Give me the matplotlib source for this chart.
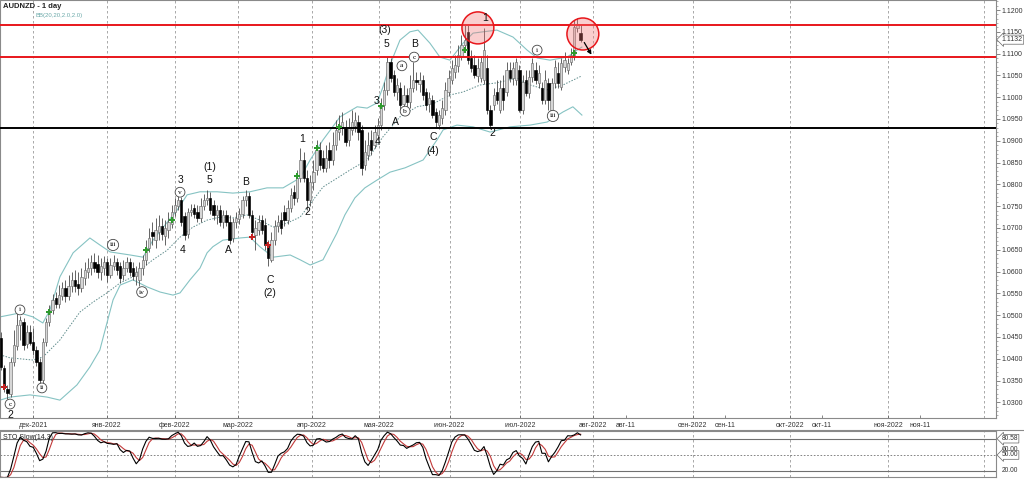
import matplotlib
matplotlib.use('Agg')
import matplotlib.pyplot as plt
from matplotlib.patches import Ellipse
import numpy as np
import pandas as pd

plt.rcParams['font.family'] = ['Liberation Sans', 'DejaVu Sans']

# ---------------- data (AUDNZD daily) ----------------
opens = [1.0448, 1.0379, 1.0330, 1.0319, 1.0392, 1.0430, 1.0478, 1.0484, 1.0434, 1.0461,
         1.0438, 1.0420, 1.0392, 1.0351, 1.0438, 1.0484, 1.0512, 1.0540, 1.0526, 1.0544,
         1.0563, 1.0544, 1.0567, 1.0581, 1.0572, 1.0563, 1.0586, 1.0599, 1.0609, 1.0622,
         1.0618, 1.0599, 1.0609, 1.0622, 1.0593, 1.0613, 1.0622, 1.0613, 1.0593, 1.0609,
         1.0622, 1.0609, 1.0590, 1.0581, 1.0609, 1.0627, 1.0654, 1.0690, 1.0672, 1.0690,
         1.0704, 1.0681, 1.0695, 1.0709, 1.0736, 1.0750, 1.0764, 1.0727, 1.0686, 1.0736,
         1.0746, 1.0736, 1.0723, 1.0750, 1.0764, 1.0769, 1.0753, 1.0730, 1.0741, 1.0713,
         1.0730, 1.0713, 1.0677, 1.0713, 1.0720, 1.0732, 1.0764, 1.0773, 1.0730, 1.0684,
         1.0695, 1.0718, 1.0707, 1.0661, 1.0627, 1.0672, 1.0704, 1.0718, 1.0736, 1.0718,
         1.0746, 1.0782, 1.0769, 1.0815, 1.0856, 1.0815, 1.0764, 1.0805, 1.0833, 1.0879,
         1.0861, 1.0838, 1.0879, 1.0856, 1.0890, 1.0920, 1.0929, 1.0929, 1.0902, 1.0925,
         1.0934, 1.0943, 1.0925, 1.0844, 1.0867, 1.0902, 1.0890, 1.0913, 1.0936, 1.0982,
         1.1017, 1.1081, 1.1051, 1.1012, 1.1021, 1.0984, 1.1005, 1.0989, 1.1021, 1.1039,
         1.1030, 1.1039, 1.1012, 1.0984, 1.0994, 1.0966, 1.0936, 1.0952, 1.0971, 1.1012,
         1.1039, 1.1058, 1.1072, 1.1095, 1.1120, 1.1150, 1.1090, 1.1074, 1.1049, 1.1044,
         1.1039, 1.1067, 1.0971, 1.0982, 1.1012, 1.0971, 1.1021, 1.1012, 1.1062, 1.1044,
         1.1039, 1.1062, 1.0971, 1.1039, 1.1010, 1.1046, 1.1062, 1.1033, 1.1021, 1.0994,
         1.1033, 1.0971, 1.1033, 1.1056, 1.1023, 1.1069, 1.1062, 1.1081, 1.1092, 1.1159,
         1.1147]
highs = [1.0461, 1.0386, 1.0340, 1.0402, 1.0466, 1.0512, 1.0498, 1.0494, 1.0478, 1.0478,
         1.0471, 1.0430, 1.0402, 1.0448, 1.0494, 1.0524, 1.0549, 1.0553, 1.0570, 1.0576,
         1.0581, 1.0593, 1.0599, 1.0604, 1.0599, 1.0609, 1.0622, 1.0631, 1.0638, 1.0642,
         1.0638, 1.0631, 1.0635, 1.0631, 1.0631, 1.0638, 1.0631, 1.0622, 1.0627, 1.0633,
         1.0631, 1.0622, 1.0613, 1.0622, 1.0638, 1.0672, 1.0700, 1.0713, 1.0723, 1.0730,
         1.0723, 1.0718, 1.0736, 1.0753, 1.0769, 1.0773, 1.0771, 1.0736, 1.0746, 1.0755,
         1.0755, 1.0753, 1.0769, 1.0778, 1.0787, 1.0782, 1.0764, 1.0753, 1.0753, 1.0741,
         1.0741, 1.0730, 1.0723, 1.0736, 1.0746, 1.0773, 1.0787, 1.0782, 1.0741, 1.0718,
         1.0730, 1.0730, 1.0723, 1.0672, 1.0690, 1.0718, 1.0730, 1.0736, 1.0753, 1.0764,
         1.0792, 1.0799, 1.0833, 1.0884, 1.0874, 1.0833, 1.0822, 1.0856, 1.0902, 1.0897,
         1.0879, 1.0890, 1.0897, 1.0920, 1.0948, 1.0959, 1.0966, 1.0948, 1.0952, 1.0971,
         1.0966, 1.0959, 1.0936, 1.0902, 1.0920, 1.0925, 1.0936, 1.0952, 1.0998, 1.1035,
         1.1092, 1.1090, 1.1062, 1.1044, 1.1035, 1.1028, 1.1021, 1.1051, 1.1081, 1.1058,
         1.1058, 1.1051, 1.1021, 1.1012, 1.1005, 1.0975, 1.0971, 1.0994, 1.1035, 1.1062,
         1.1085, 1.1097, 1.1120, 1.1143, 1.1166, 1.1166, 1.1108, 1.1097, 1.1090, 1.1095,
         1.1159, 1.1097, 1.0982, 1.1021, 1.1039, 1.1039, 1.1051, 1.1081, 1.1081, 1.1081,
         1.1090, 1.1074, 1.1051, 1.1062, 1.1062, 1.1090, 1.1081, 1.1074, 1.1035, 1.1062,
         1.1044, 1.1044, 1.1085, 1.1081, 1.1090, 1.1104, 1.1090, 1.1113, 1.1177, 1.1182,
         1.1166]
lows = [1.0374, 1.0323, 1.0307, 1.0312, 1.0383, 1.0420, 1.0443, 1.0420, 1.0425, 1.0432,
        1.0409, 1.0383, 1.0342, 1.0344, 1.0430, 1.0475, 1.0503, 1.0517, 1.0517, 1.0535,
        1.0530, 1.0535, 1.0553, 1.0553, 1.0547, 1.0553, 1.0570, 1.0586, 1.0593, 1.0599,
        1.0586, 1.0581, 1.0593, 1.0576, 1.0586, 1.0604, 1.0593, 1.0574, 1.0581, 1.0599,
        1.0590, 1.0581, 1.0570, 1.0567, 1.0593, 1.0615, 1.0644, 1.0661, 1.0654, 1.0672,
        1.0672, 1.0661, 1.0677, 1.0700, 1.0727, 1.0741, 1.0704, 1.0672, 1.0677, 1.0727,
        1.0723, 1.0713, 1.0713, 1.0741, 1.0753, 1.0732, 1.0718, 1.0709, 1.0704, 1.0700,
        1.0704, 1.0663, 1.0667, 1.0700, 1.0709, 1.0723, 1.0750, 1.0723, 1.0677, 1.0649,
        1.0684, 1.0686, 1.0649, 1.0613, 1.0622, 1.0661, 1.0690, 1.0686, 1.0704, 1.0709,
        1.0736, 1.0753, 1.0759, 1.0805, 1.0805, 1.0741, 1.0750, 1.0787, 1.0822, 1.0833,
        1.0828, 1.0828, 1.0838, 1.0844, 1.0879, 1.0902, 1.0913, 1.0888, 1.0888, 1.0913,
        1.0920, 1.0902, 1.0822, 1.0833, 1.0856, 1.0867, 1.0884, 1.0902, 1.0925, 1.0971,
        1.1005, 1.1035, 1.1003, 1.0994, 1.0971, 1.0975, 1.0971, 1.0975, 1.1012, 1.1017,
        1.1012, 1.0994, 1.0971, 1.0966, 1.0952, 1.0929, 1.0927, 1.0939, 1.0959, 1.1003,
        1.1030, 1.1044, 1.1058, 1.1085, 1.1104, 1.1076, 1.1058, 1.1044, 1.1035, 1.1035,
        1.1030, 1.0961, 1.0929, 1.0971, 1.0984, 1.0964, 1.0971, 1.1003, 1.1035, 1.1028,
        1.1028, 1.0966, 1.0961, 1.1003, 1.0998, 1.1035, 1.1030, 1.1021, 1.0984, 1.0984,
        1.0971, 1.0966, 1.1021, 1.1021, 1.1017, 1.1058, 1.1053, 1.1074, 1.1085, 1.1150,
        1.1127]
closes = [1.0381, 1.0333, 1.0321, 1.0392, 1.0432, 1.0478, 1.0489, 1.0432, 1.0461, 1.0436,
          1.0420, 1.0392, 1.0351, 1.0438, 1.0484, 1.0512, 1.0535, 1.0526, 1.0547, 1.0563,
          1.0544, 1.0567, 1.0581, 1.0567, 1.0563, 1.0588, 1.0604, 1.0609, 1.0622, 1.0609,
          1.0599, 1.0613, 1.0622, 1.0593, 1.0615, 1.0622, 1.0604, 1.0586, 1.0609, 1.0622,
          1.0599, 1.0590, 1.0599, 1.0609, 1.0627, 1.0654, 1.0677, 1.0681, 1.0695, 1.0704,
          1.0686, 1.0700, 1.0713, 1.0736, 1.0753, 1.0764, 1.0713, 1.0684, 1.0736, 1.0741,
          1.0732, 1.0723, 1.0750, 1.0764, 1.0769, 1.0741, 1.0730, 1.0741, 1.0713, 1.0730,
          1.0713, 1.0672, 1.0713, 1.0723, 1.0732, 1.0764, 1.0773, 1.0730, 1.0690, 1.0700,
          1.0713, 1.0695, 1.0661, 1.0631, 1.0672, 1.0704, 1.0713, 1.0700, 1.0718, 1.0746,
          1.0776, 1.0769, 1.0815, 1.0856, 1.0815, 1.0764, 1.0805, 1.0828, 1.0879, 1.0844,
          1.0838, 1.0861, 1.0856, 1.0890, 1.0925, 1.0936, 1.0943, 1.0897, 1.0929, 1.0943,
          1.0948, 1.0920, 1.0838, 1.0874, 1.0890, 1.0879, 1.0920, 1.0936, 1.0982, 1.1017,
          1.1081, 1.1044, 1.1012, 1.1028, 1.0982, 1.1005, 1.0989, 1.1021, 1.1039, 1.1035,
          1.1039, 1.1005, 1.0982, 1.0998, 1.0959, 1.0943, 1.0959, 1.0975, 1.1017, 1.1044,
          1.1067, 1.1074, 1.1097, 1.1120, 1.1131, 1.1085, 1.1067, 1.1051, 1.1067, 1.1081,
          1.1108, 1.0971, 1.0936, 1.1005, 1.0994, 1.1021, 1.0994, 1.1062, 1.1044, 1.1067,
          1.1081, 1.0971, 1.1035, 1.1010, 1.1046, 1.1078, 1.1039, 1.1056, 1.0994, 1.1039,
          1.0994, 1.1033, 1.1069, 1.1033, 1.1078, 1.1085, 1.1078, 1.1097, 1.1161, 1.1168,
          1.1132]

# Bollinger band (20, 2.0) traced: bar position, price
bb_upper_x = [-0.3, 5.9, 9.9, 13.0, 15.2, 18.3, 22.4, 27.6, 30.7, 33.9, 40.1, 44.1, 47.2, 51.6,
              54.7, 57.8, 61.8, 67.1, 72.0, 77.3, 82.6, 87.6, 92.9, 96.0, 100.0, 105.3, 110.6,
              113.7, 116.8, 118.6, 120.8, 123.9, 127.0, 129.5, 133.2, 136.3, 139.4, 143.5, 146.6,
              149.7, 154.0, 159.0, 163.4, 166.5, 170.5, 175.8, 178.9, 180.4]
bb_upper_y = [1.0496, 1.0505, 1.0496, 1.0482, 1.0512, 1.0588, 1.0643, 1.0677, 1.0661, 1.0645,
              1.0638, 1.0633, 1.0672, 1.0713, 1.0741, 1.0776, 1.0783, 1.0783, 1.0780, 1.0783,
              1.0792, 1.0792, 1.0815, 1.0856, 1.0902, 1.0955, 1.0978, 1.0975, 1.0987, 1.1023,
              1.1074, 1.1131, 1.1150, 1.1154, 1.1124, 1.1092, 1.1085, 1.1124, 1.1147, 1.1150,
              1.1154, 1.1138, 1.1108, 1.1090, 1.1085, 1.1092, 1.1108, 1.1115]
bb_mid_x = [-0.3, 2.8, 9.9, 13.0, 15.2, 18.3, 20.5, 24.5, 28.6, 32.9, 37.0, 41.0, 43.2, 47.2,
            51.6, 55.6, 59.6, 64.0, 68.0, 72.0, 76.4, 80.4, 84.5, 88.8, 92.9, 100.0, 108.4,
            113.7, 118.6, 123.9, 129.2, 134.2, 139.4, 143.5, 148.8, 154.0, 160.2, 164.3, 169.6,
            174.5, 180.4]
bb_mid_y = [1.0409, 1.0402, 1.0397, 1.0404, 1.0420, 1.0443, 1.0466, 1.0507, 1.0530, 1.0551,
            1.0574, 1.0588, 1.0604, 1.0627, 1.0649, 1.0679, 1.0702, 1.0718, 1.0725, 1.0723,
            1.0730, 1.0718, 1.0702, 1.0711, 1.0725, 1.0794, 1.0833, 1.0856, 1.0909, 1.0955,
            1.0978, 1.0985, 1.1005, 1.1012, 1.1028, 1.1033, 1.1044, 1.1028, 1.1017, 1.1028,
            1.1049]
bb_lower_x = [-0.3, 2.8, 9.0, 14.3, 18.3, 23.6, 27.6, 30.7, 32.9, 34.8, 37.0, 41.0, 45.3, 49.4,
              53.4, 55.6, 58.7, 61.8, 64.0, 65.8, 68.9, 74.2, 77.3, 80.4, 84.5, 89.8, 92.9, 96.0,
              100.0, 104.3, 106.8, 109.9, 113.0, 116.8, 120.8, 125.5, 131.1, 135.4, 137.3, 141.6,
              146.6, 151.9, 158.1, 164.3, 169.6, 174.5, 177.6, 180.4]
bb_lower_y = [1.0305, 1.0312, 1.0317, 1.0312, 1.0305, 1.0340, 1.0381, 1.0420, 1.0482, 1.0535,
              1.0569, 1.0581, 1.0565, 1.0553, 1.0546, 1.0551, 1.0581, 1.0608, 1.0643, 1.0657,
              1.0672, 1.0677, 1.0679, 1.0657, 1.0633, 1.0638, 1.0627, 1.0615, 1.0627, 1.0688,
              1.0730, 1.0769, 1.0792, 1.0810, 1.0828, 1.0838, 1.0856, 1.0902, 1.0925, 1.0936,
              1.0932, 1.0920, 1.0932, 1.0936, 1.0943, 1.0966, 1.0978, 1.0959]

# signal markers
green_idx = [15, 45, 53, 92, 98, 105, 118, 144, 178]
green_px = [1.0507, 1.0649, 1.0718, 1.0819, 1.0884, 1.0932, 1.0980, 1.1108, 1.1101]
red_idx = [1, 78, 83]
red_px = [1.0335, 1.0679, 1.0661]

# horizontal levels
resistance_levels = [1.1166, 1.1092]
support_level = 1.0929
last_price = 1.1132

# wave labels: (text, bar position, price, circled)
wave_labels = [
    ("2", 2.8, 1.0271, False), ("c", 2.8, 1.0296, True), ("i", 5.9, 1.0512, True),
    ("ii", 12.7, 1.0333, True), ("iii", 34.8, 1.0661, True), ("iv", 43.8, 1.0553, True),
    ("v", 55.6, 1.0782, True), ("3", 55.6, 1.0810, False), ("4", 56.5, 1.0649, False),
    ("(1)", 64.9, 1.0840, False), ("5", 64.6, 1.0810, False), ("A", 70.5, 1.0649, False),
    ("B", 75.8, 1.0805, False), ("C", 83.5, 1.0581, False), ("(2)", 83.5, 1.0551, False),
    ("1", 93.5, 1.0904, False), ("2", 95.3, 1.0737, False), ("(3)", 119.3, 1.1154, False),
    ("5", 119.6, 1.1122, False), ("3", 116.5, 1.0991, False), ("4", 117.1, 1.0897, False),
    ("A", 122.4, 1.0943, False), ("a", 124.5, 1.1072, True), ("b", 125.5, 1.0968, True),
    ("B", 128.3, 1.1122, False), ("c", 128.3, 1.1092, True), ("C", 134.2, 1.0909, False),
    ("(4)", 134.2, 1.0877, False), ("1", 150.3, 1.1182, False), ("2", 152.5, 1.0918, False),
    ("i", 166.5, 1.1108, True), ("iii", 171.4, 1.0957, True),
]

# highlight circles (bar position, price)
circle_x = [148.1, 180.7]
circle_y = [1.1159, 1.1145]

# x axis month labels (bar positions)
month_pos = [9.94, 32.9, 53.9, 73.6, 96.6, 117.5, 139.3, 161.2, 183.9, 194.1, 214.9, 224.8,
             245.0, 255.0, 275.6, 285.4]
month_labels = ["дек-2021", "янв-2022", "фев-2022", "мар-2022", "апр-2022", "мая-2022",
                "июн-2022", "июл-2022", "авг-2022", "авг-11", "сен-2022", "сен-11",
                "окт-2022", "окт-11", "ноя-2022", "ноя-11"]
grid_pos = [9.94, 32.9, 53.9, 73.6, 96.6, 117.5, 139.3, 161.2, 183.9, 214.9, 245.0, 275.6, 305.3]

# ---------------- figure ----------------
fig = plt.figure(figsize=(10.24, 4.79), dpi=100)
W, H = 1024.0, 479.0
ax = fig.add_axes([0, (H - 418) / H, 996 / W, 418 / H])
axs = fig.add_axes([0, (H - 477) / H, 996 / W, 46 / H], sharex=ax)

o = np.array(opens); h = np.array(highs); l = np.array(lows); c = np.array(closes)
idx = np.arange(len(c))
up = c >= o

ax.set_xlim(-0.31, 309.0)
ax.set_ylim(1.0264, 1.1223)

for gx in grid_pos:
    ax.axvline(gx, color='#9a9a9a', lw=0.6, ls=(0, (3, 3)), zorder=1)
    axs.axvline(gx, color='#9a9a9a', lw=0.6, ls=(0, (3, 3)), zorder=1)

# bands
bb_col = '#86c3c3'
ax.plot(bb_upper_x, bb_upper_y, color=bb_col, lw=0.8, zorder=2)
ax.plot(bb_lower_x, bb_lower_y, color=bb_col, lw=0.8, zorder=2)
ax.plot(bb_mid_x, bb_mid_y, color='#5f8c8c', lw=0.7, ls=(0, (1.5, 1.5)), zorder=2)

# candles
ax.vlines(idx, l, h, color='#4a4a4a', lw=0.6, zorder=3)
ax.bar(idx[up], np.maximum((c - o)[up], 0.00008), bottom=o[up], width=0.72,
       color='#d6d6d6', edgecolor='#6e6e6e', lw=0.45, zorder=4)
ax.bar(idx[~up], (o - c)[~up], bottom=c[~up], width=0.72,
       color='black', edgecolor='black', lw=0.45, zorder=4)

# levels
for lv in resistance_levels:
    ax.axhline(lv, color='#e8161b', lw=1.4, zorder=5)
ax.axhline(support_level, color='black', lw=1.4, zorder=5)

# markers
ax.scatter(green_idx, green_px, marker='P', s=18, color='#2e9a2e', zorder=6, linewidths=0)
ax.scatter(red_idx, red_px, marker='P', s=18, color='#c42020', zorder=6, linewidths=0)

# circles
for cx, cy in zip(circle_x, circle_y):
    ax.add_patch(Ellipse((cx, cy), 9.9, 0.00734, facecolor=(0.95, 0.45, 0.45, 0.35),
                         edgecolor='#e8161b', lw=1.1, zorder=7))

# arrow
ax.annotate('', xy=(183.8, 1.1092), xytext=(180.7, 1.1131),
            arrowprops=dict(arrowstyle='-|>', color='black', lw=0.9, mutation_scale=6), zorder=8)

# wave labels
for txt, x, y, circ in wave_labels:
    if circ:
        ax.text(x, y, txt, ha='center', va='center', fontsize=5.4, family='Liberation Serif',
                zorder=9, bbox=dict(boxstyle='circle,pad=0.32', fc='white', ec='#444444', lw=0.6))
    else:
        ax.text(x, y, txt, ha='center', va='center', fontsize=7.5, color='#111111', zorder=9,
                clip_on=True)

# texts
ax.text(3 / 996, 1 - 7 / 418, "AUDNZD - 1 day", transform=ax.transAxes, fontsize=5.5,
        fontweight='bold', va='center', ha='left', color='#222222')
ax.text(36 / 996, 1 - 15.5 / 418, "BB(20,20,2.0,2.0)", transform=ax.transAxes, fontsize=4.3,
        va='center', ha='left', color='#6aa9a9')

# y axis on right
ticks = np.round(np.arange(1.0300, 1.1201, 0.005), 4)
ax.yaxis.tick_right()
ax.set_yticks(ticks)
ax.set_yticklabels([f"{t:.4f}" for t in ticks], fontsize=5, color='#333333')
ax.set_yticks(np.round(np.arange(1.027, 1.1221, 0.001), 4), minor=True)
ax.tick_params(axis='y', which='major', direction='out', length=3, width=0.5, pad=1, colors='#555555',
               labelcolor='#333333')
ax.tick_params(axis='y', which='minor', direction='out', length=1.5, width=0.4, colors='#777777')
ax.annotate(f"{last_price:.4f}", xy=(1.0, last_price), xycoords=('axes fraction', 'data'),
            xytext=(4, 0), textcoords='offset points', fontsize=5, va='center', ha='left',
            color='#333333',
            bbox=dict(boxstyle='larrow,pad=0.15', fc='white', ec='#666666', lw=0.5))

ax.set_xticks(month_pos)
ax.set_xticklabels(month_labels, fontsize=5, color='#333333')
ax.tick_params(axis='x', direction='in', length=2.5, width=0.5, pad=3, colors='#555555',
               labelcolor='#333333')

for sp in ax.spines.values():
    sp.set_color('#8a8a8a'); sp.set_linewidth(0.8)

# ---------------- stochastic slow (14,3) ----------------
hs, ls_, cs = pd.Series(h), pd.Series(l), pd.Series(c)
hh = hs.rolling(14, min_periods=1).max()
ll = ls_.rolling(14, min_periods=1).min()
fast_k = 100 * (cs - ll) / (hh - ll)
slow_k = fast_k.rolling(3, min_periods=1).mean()
slow_d = slow_k.rolling(3, min_periods=1).mean()

axs.set_ylim(8.75, 95)
axs.axhline(80, color='#707070', lw=0.8)
axs.axhline(20, color='#707070', lw=0.8)
axs.axhline(50, color='#707070', lw=0.6, ls=(0, (2, 2)))
axs.plot(idx, slow_d, color='#c23a3a', lw=0.8, zorder=3)
axs.plot(idx, slow_k, color='black', lw=0.8, zorder=4)
axs.text(3 / 996, 0.86, "STO Slow(14,3)", transform=axs.transAxes, fontsize=5,
         color='#222222', va='center', ha='left')
axs.set_yticks([])
axs.tick_params(axis='x', which='both', bottom=False, labelbottom=False)
for val, txt, box in [(80.58, "80.58", True), (60.0, "60.00", False), (50.0, "50.00", True),
                      (20.0, "20.00", False)]:
    axs.annotate(txt, xy=(1.0, val), xycoords=('axes fraction', 'data'), xytext=(4, 0),
                 textcoords='offset points', fontsize=4.8, va='center', ha='left',
                 color='#333333', annotation_clip=False,
                 bbox=dict(boxstyle='larrow,pad=0.12', fc='white', ec='#666666', lw=0.5) if box else None)
for sp in axs.spines.values():
    sp.set_color('#8a8a8a'); sp.set_linewidth(0.8)

# separator line across figure
fig.add_artist(plt.Line2D([0, 1], [(H - 430) / H, (H - 430) / H], color='#8a8a8a', lw=0.8))

fig.savefig('out.png', dpi=100)
